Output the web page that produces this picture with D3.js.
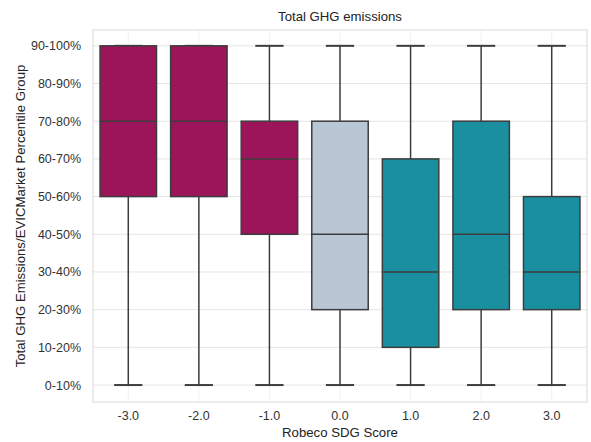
<!DOCTYPE html>
<html><head><meta charset="utf-8">
<script src="https://cdn.jsdelivr.net/npm/d3@7"></script>
<style>body{margin:0;background:#fff;} text{font-family:"Liberation Sans",Arial,sans-serif;}</style>
</head><body><svg id="c" width="591" height="442"></svg>
<script>
const categories = ["-3.0","-2.0","-1.0","0.0","1.0","2.0","3.0"];
const yTickLabels = ["0-10%","10-20%","20-30%","30-40%","40-50%","50-60%","60-70%","70-80%","80-90%","90-100%"];
// values are indices into yTickLabels
const whiskerLow = [0,0,0,0,0,0,0];
const q1 =        [5,5,4,2,1,2,2];
const median =    [7,7,6,4,3,4,3];
const q3 =        [9,9,7,7,6,7,5];
const whiskerHigh = [9,9,9,9,9,9,9];
const boxColors = ["#9c1459","#9c1459","#9c1459","#b9c7d4","#1a8fa0","#1a8fa0","#1a8fa0"];

const svg = d3.select("#c");
const L=93, R=587, T=30, B=402;
const x = d3.scaleBand().domain(categories).range([L,R]).padding(0);
const y = d3.scaleLinear().domain([-0.45,9.42]).range([B,T]);

// grid
svg.append("g").selectAll("line").data(yTickLabels).join("line")
  .attr("x1",L).attr("x2",R).attr("y1",(d,i)=>y(i)).attr("y2",(d,i)=>y(i))
  .attr("stroke","#e5e5e5").attr("stroke-width",1);
svg.append("g").selectAll("line").data(categories).join("line")
  .attr("x1",d=>x(d)+x.bandwidth()/2).attr("x2",d=>x(d)+x.bandwidth()/2).attr("y1",T).attr("y2",B)
  .attr("stroke","#f0f0f0").attr("stroke-width",1);
// frame
svg.append("rect").attr("x",L).attr("y",T).attr("width",R-L).attr("height",B-T)
  .attr("fill","none").attr("stroke","#e0e0e0").attr("stroke-width",1.2);

// axes
const yAxis = d3.axisLeft(y).tickValues(d3.range(10)).tickFormat(i=>yTickLabels[i]).tickSize(0).tickPadding(12);
const gy = svg.append("g").attr("transform",`translate(${L},0)`).call(yAxis);
gy.select(".domain").remove();
gy.selectAll("text").attr("font-size",12.5).attr("fill","#333");
const xAxis = d3.axisBottom(x).tickSize(0).tickPadding(9);
const gx = svg.append("g").attr("transform",`translate(0,${B})`).call(xAxis);
gx.select(".domain").remove();
gx.selectAll("text").attr("font-size",12.5).attr("fill","#333");

const bw = x.bandwidth()*0.8, cw = bw/2;
const edge = "#3d3d3d";
const g = svg.append("g");
categories.forEach((c,i)=>{
  const cx = x(c)+x.bandwidth()/2;
  g.append("line").attr("x1",cx).attr("x2",cx).attr("y1",y(whiskerLow[i])).attr("y2",y(q1[i])).attr("stroke",edge).attr("stroke-width",1.5);
  g.append("line").attr("x1",cx).attr("x2",cx).attr("y1",y(q3[i])).attr("y2",y(whiskerHigh[i])).attr("stroke",edge).attr("stroke-width",1.5);
  g.append("line").attr("x1",cx-cw/2).attr("x2",cx+cw/2).attr("y1",y(whiskerLow[i])).attr("y2",y(whiskerLow[i])).attr("stroke",edge).attr("stroke-width",2);
  g.append("line").attr("x1",cx-cw/2).attr("x2",cx+cw/2).attr("y1",y(whiskerHigh[i])).attr("y2",y(whiskerHigh[i])).attr("stroke",edge).attr("stroke-width",2);
  g.append("rect").attr("x",cx-bw/2).attr("width",bw).attr("y",y(q3[i])).attr("height",y(q1[i])-y(q3[i]))
    .attr("fill",boxColors[i]).attr("stroke",edge).attr("stroke-width",1.5);
  g.append("line").attr("x1",cx-bw/2).attr("x2",cx+bw/2).attr("y1",y(median[i])).attr("y2",y(median[i])).attr("stroke",edge).attr("stroke-width",1.5);
});

svg.append("text").attr("x",(L+R)/2).attr("y",21).attr("text-anchor","middle").attr("font-size",13.2).attr("fill","#222").text("Total GHG emissions");
svg.append("text").attr("x",(L+R)/2).attr("y",437).attr("text-anchor","middle").attr("font-size",13.2).attr("fill","#222").text("Robeco SDG Score");
svg.append("text").attr("transform",`translate(25,${(T+B)/2}) rotate(-90)`).attr("text-anchor","middle").attr("font-size",13.2).attr("fill","#222").text("Total GHG Emissions/EVICMarket Percentile Group");
</script></body></html>
